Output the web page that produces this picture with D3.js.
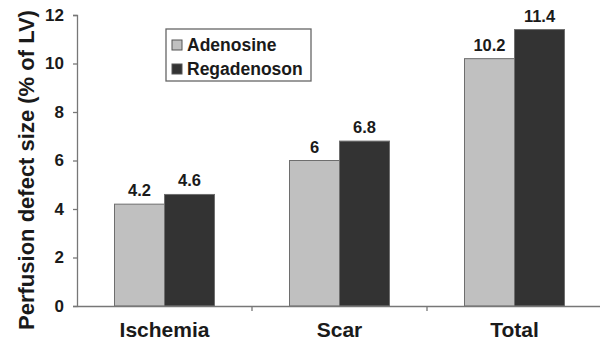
<!DOCTYPE html>
<html>
<head>
<meta charset="utf-8">
<script src="https://cdn.jsdelivr.net/npm/d3@7"></script>
<style>
  body { margin: 0; background: #fff; }
  svg { font-family: "Liberation Sans", Arial, sans-serif; font-weight: bold; }
</style>
</head>
<body>
<div id="chart"></div>
<script>
// data
var categories = ["Ischemia", "Scar", "Total"];
var seriesNames = ["Adenosine", "Regadenoson"];
var adenosine = [4.2, 6, 10.2];
var regadenoson = [4.6, 6.8, 11.4];
var yTicks = [0, 2, 4, 6, 8, 10, 12];

var colors = ["#c0c0c0", "#333333"];
var width = 600, height = 343;

var svg = d3.select("#chart")
  .append("svg")
  .attr("width", width)
  .attr("height", height);

// x: three bands of 175px starting at the y axis
var x = d3.scaleBand()
  .domain(categories)
  .range([77, 602])
  .paddingInner(0)
  .paddingOuter(0);

var xSub = d3.scaleBand()
  .domain(seriesNames)
  .range([0, x.bandwidth()])
  .paddingOuter(0.75)
  .paddingInner(0);

var y = d3.scaleLinear()
  .domain([0, 12])
  .range([306, 15]);

var rows = categories.map(function(c, i) {
  return { cat: c, values: [adenosine[i], regadenoson[i]] };
});

// bars
var groups = svg.selectAll(".grp")
  .data(rows)
  .enter()
  .append("g")
  .attr("transform", function(d) { return "translate(" + x(d.cat) + ",0)"; });

groups.selectAll("rect")
  .data(function(d) { return d.values.map(function(v, j) { return { name: seriesNames[j], v: v, j: j }; }); })
  .enter()
  .append("rect")
    .attr("x", function(d) { return xSub(d.name); })
    .attr("y", function(d) { return y(d.v); })
    .attr("width", xSub.bandwidth())
    .attr("height", function(d) { return y(0) - y(d.v); })
    .attr("fill", function(d) { return colors[d.j]; })
    .attr("stroke", "#6e6e6e")
    .attr("stroke-width", 1);

// value labels
groups.selectAll("text")
  .data(function(d) { return d.values.map(function(v, j) { return { name: seriesNames[j], v: v }; }); })
  .enter()
  .append("text")
    .attr("x", function(d) { return xSub(d.name) + xSub.bandwidth() / 2; })
    .attr("y", function(d) { return y(d.v) - 8; })
    .attr("text-anchor", "middle")
    .attr("font-size", 16.5)
    .attr("fill", "#1a1a1a")
    .text(function(d) { return d.v; });

// y axis
var yAxis = svg.append("g")
  .attr("transform", "translate(77,0)")
  .call(d3.axisLeft(y).tickValues(yTicks).tickSize(4).tickPadding(9));
yAxis.select(".domain").attr("stroke", "#777").attr("stroke-width", 1.3);
yAxis.selectAll(".tick line").attr("stroke", "#777").attr("stroke-width", 1.3);
yAxis.selectAll("text")
  .attr("font-size", 17)
  .attr("font-family", "Liberation Sans, Arial, sans-serif")
  .attr("font-weight", "bold")
  .attr("fill", "#1a1a1a");

// x axis
var xAxis = svg.append("g")
  .attr("transform", "translate(0,306)")
  .call(d3.axisBottom(x).tickSize(0).tickPadding(16));
xAxis.select(".domain").attr("stroke", "#777").attr("stroke-width", 1.3);
xAxis.selectAll("text")
  .attr("font-size", 21)
  .attr("font-family", "Liberation Sans, Arial, sans-serif")
  .attr("font-weight", "bold")
  .attr("fill", "#1a1a1a");
// separators between categories
xAxis.selectAll(".sep")
  .data(categories.slice(1))
  .enter()
  .append("line")
    .attr("x1", function(d) { return x(d); })
    .attr("x2", function(d) { return x(d); })
    .attr("y1", 0)
    .attr("y2", 5)
    .attr("stroke", "#777")
    .attr("stroke-width", 1.3);

// y title
svg.append("text")
  .attr("transform", "translate(34,170) rotate(-90)")
  .attr("text-anchor", "middle")
  .attr("font-size", 22)
  .attr("fill", "#1a1a1a")
  .text("Perfusion defect size (% of LV)");

// legend
var legend = svg.append("g").attr("transform", "translate(166,29)");
legend.append("rect")
  .attr("width", 145)
  .attr("height", 52)
  .attr("fill", "#fff")
  .attr("stroke", "#666")
  .attr("stroke-width", 1.3);
var items = legend.selectAll(".item")
  .data(seriesNames)
  .enter()
  .append("g")
  .attr("transform", function(d, i) { return "translate(6," + (11 + i * 24) + ")"; });
items.append("rect")
  .attr("width", 10)
  .attr("height", 10)
  .attr("fill", function(d, i) { return colors[i]; })
  .attr("stroke", "#555");
items.append("text")
  .attr("x", 15)
  .attr("y", 11)
  .attr("font-size", 17.5)
  .attr("fill", "#1a1a1a")
  .text(function(d) { return d; });
</script>
</body>
</html>
